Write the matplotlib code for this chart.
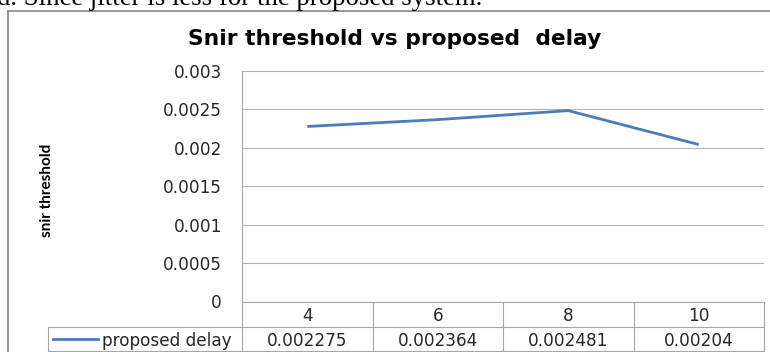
import matplotlib
matplotlib.use("Agg")
import matplotlib.pyplot as plt
from matplotlib.ticker import FixedLocator, FixedFormatter

# ---- data ----
categories = ["4", "6", "8", "10"]
series_name = "proposed delay"
delay_values = [0.002275, 0.002364, 0.002481, 0.00204]
delay_labels = ["0.002275", "0.002364", "0.002481", "0.00204"]
y_ticks = [0, 0.0005, 0.001, 0.0015, 0.002, 0.0025, 0.003]
y_tick_labels = ["0", "0.0005", "0.001", "0.0015", "0.002", "0.0025", "0.003"]

title = "Snir threshold vs proposed  delay"
y_label = "snir threshold"
caption = "d. Since jitter is less for the proposed system."

# ---- layout (pixels) ----
W, H = 770, 352
DPI = 100
LINE_BLUE = "#4a7ebb"
GRID = "#b4b4b4"
RULE = "#a6a6a6"
TEXT = "#262626"

plot_left, plot_right = 242, 764
plot_top, plot_bottom = 70.7, 301.5
row_mid, row_bottom = 326.7, 351.0
legend_left = 48

fig = plt.figure(figsize=(W / DPI, H / DPI), dpi=DPI)
fig.patch.set_facecolor("white")

ax = fig.add_axes([plot_left / W, 1 - plot_bottom / H,
                   (plot_right - plot_left) / W, (plot_bottom - plot_top) / H])
x = list(range(len(categories)))
ax.plot(x, delay_values, color=LINE_BLUE, lw=2.0, solid_capstyle="butt", zorder=3)
ax.set_xlim(-0.5, len(categories) - 0.5)
ax.set_ylim(y_ticks[0], y_ticks[-1])
ax.yaxis.set_major_locator(FixedLocator(y_ticks))
ax.yaxis.set_major_formatter(FixedFormatter(y_tick_labels))
ax.set_xticks([])
ax.tick_params(axis="y", length=0, pad=14.4, labelsize=12.2, labelcolor=TEXT)
for lab in ax.get_yticklabels():
    lab.set_family("DejaVu Sans")
ax.grid(axis="y", color=GRID, lw=0.8)
ax.set_axisbelow(True)
for s in ("top", "right"):
    ax.spines[s].set_visible(False)
ax.spines["left"].set_color(RULE)
ax.spines["bottom"].set_color(RULE)
ax.spines["left"].set_linewidth(0.8)
ax.spines["bottom"].set_linewidth(0.8)
ax.patch.set_alpha(0)

# overlay axes in pixel units (origin bottom-left)
ov = fig.add_axes([0, 0, 1, 1], zorder=-1)
ov.set_xlim(0, W)
ov.set_ylim(0, H)
ov.axis("off")

def fy(y_top):
    return H - y_top

# outer chart frame
ov.plot([8, 8], [fy(11), fy(H + 5)], color="#868686", lw=1.2)
ov.plot([8, W + 5], [fy(11), fy(11)], color="#868686", lw=1.2)

# caption text above the chart
ov.text(-3, fy(5), caption, family="Liberation Serif", fontsize=19.3,
        color="black", ha="left", va="baseline")

# title
ov.text(395, fy(45), title, family="DejaVu Sans",
        fontweight="bold", fontsize=15.7, color="black", ha="center", va="baseline")

# y-axis label
ov.text(47, fy(190), y_label, family=["Lato", "DejaVu Sans"],
        fontweight="bold", fontsize=11.0, color="black", rotation=90,
        ha="center", va="center")

# data table below the plot: column edges follow the category axis
fig.canvas.draw()
to_px = lambda xv: ax.transData.transform((xv, 0))[0]
edges = [to_px(i - 0.5) for i in range(len(categories) + 1)]
centers = [to_px(i) for i in x]

for e in edges:
    ov.plot([e, e], [fy(plot_bottom), fy(row_bottom)], color=RULE, lw=0.8)
ov.plot([legend_left, legend_left], [fy(row_mid), fy(row_bottom)], color=RULE, lw=0.8)
ov.plot([legend_left, edges[-1]], [fy(row_mid), fy(row_mid)], color=RULE, lw=0.8)
ov.plot([legend_left, edges[-1]], [fy(row_bottom), fy(row_bottom)], color=RULE, lw=0.8)

hdr_y = (plot_bottom + row_mid) / 2
dat_y = (row_mid + row_bottom) / 2
for cx, c in zip(centers, categories):
    ov.text(cx, fy(hdr_y), c, family="DejaVu Sans", fontsize=12.2, color=TEXT,
            ha="center", va="center_baseline")
for cx, v in zip(centers, delay_labels):
    ov.text(cx, fy(dat_y), v, family="DejaVu Sans", fontsize=12.2, color=TEXT,
            ha="center", va="center_baseline")

ov.plot([53, 98], [fy(dat_y), fy(dat_y)], color=LINE_BLUE, lw=2.0)
ov.text(102, fy(dat_y), series_name, family="DejaVu Sans", fontsize=12.2,
        color=TEXT, ha="left", va="center_baseline")

fig.savefig("out.png", dpi=DPI, facecolor="white")
